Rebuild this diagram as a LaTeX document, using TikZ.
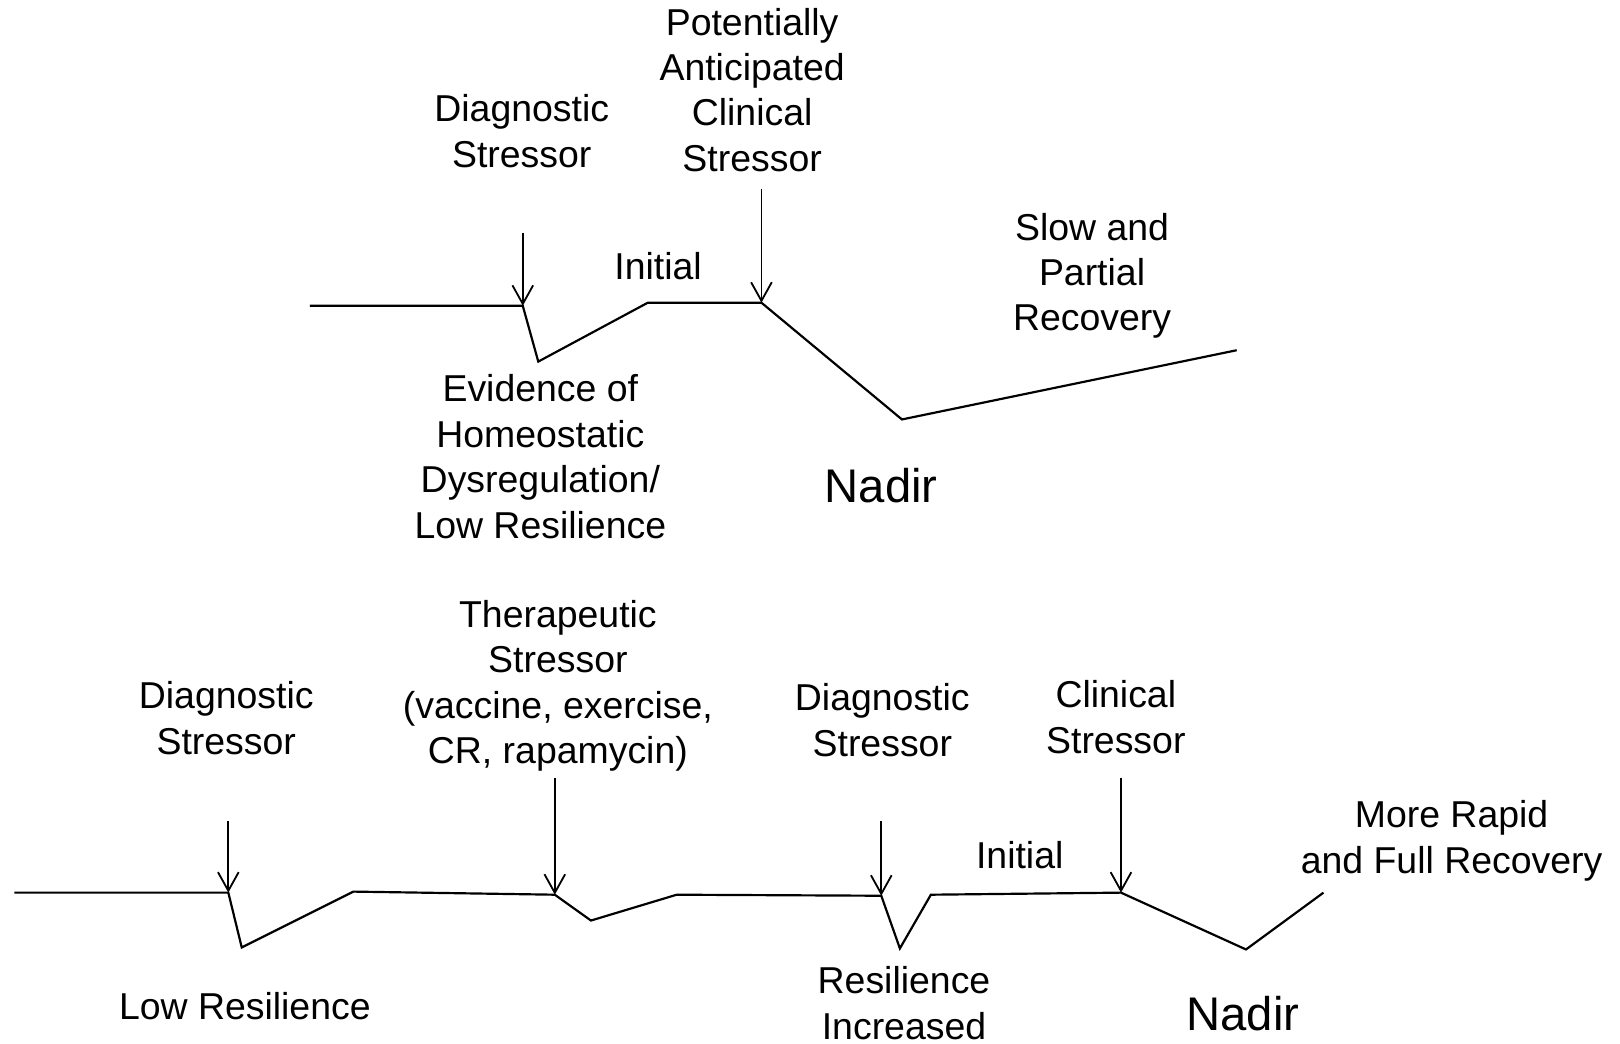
\documentclass[tikz,border=0pt]{standalone}
\usepackage{fontspec}
\setmainfont{Liberation Sans}
\usetikzlibrary{arrows.meta}
\tikzset{
  >={Straight Barb[length=1.8mm,width=2mm]},
  trace/.style={line width=0.6pt,line join=miter},
  stressarrow/.style={->,line width=0.5pt},
  lbl/.style={align=center,font=\fontsize{10.3}{12.5}\selectfont,inner sep=0pt},
  nadir/.style={font=\fontsize{13}{15}\selectfont,inner sep=0pt}
}

\begin{document}
\begin{tikzpicture}[x=0.01cm,y=-0.01cm]
    \useasboundingbox (0,0) rectangle (1568,1010);

    % upper trace: low resilience
    \foreach \x/\y/\id in {300/296/0,506/296/1,521/350/2,627/293/3,737/293/4,873/406/5,1197/339/6}
        \coordinate (t\id) at (\x,\y);
    \draw[trace] (t0) -- (t1) -- (t2) -- (t3) -- (t4) -- (t5) -- (t6);
    \coordinate (ta1) at (506,226);
    \coordinate (ta2) at (737,183);
    \draw[stressarrow] (ta1) -- (t1);
    \draw[stressarrow] (ta2) -- (t4);

    \node[lbl] (diag1) at (505,127) {Diagnostic\\Stressor};
    \node[lbl] (clin1) at (728,87) {Potentially\\Anticipated\\Clinical\\Stressor};
    \node[lbl] (init1) at (637,258) {Initial};
    \node[lbl] (slow) at (1057,267) {Slow and\\Partial\\Recovery};
    \node[lbl] (evid) at (523,442) {Evidence of\\Homeostatic\\Dysregulation/\\Low Resilience};
    \node[nadir] (nadir1) at (853,470) {Nadir};

    % lower trace: resilience increased
    \foreach \x/\y/\id in {14/864/0,221/864/1,234/917/2,342/863/3,537/866/4,572/891/5,655/866/6,853/867/7,871/918/8,901/866/9,1085/864/10,1206/919/11,1281/864/12}
        \coordinate (b\id) at (\x,\y);
    \draw[trace] (b0) -- (b1) -- (b2) -- (b3) -- (b4) -- (b5) -- (b6) -- (b7) -- (b8) -- (b9) -- (b10) -- (b11) -- (b12);
    \foreach \x/\y/\id in {221/795/1,537/753/4,853/795/7,1085/753/10}
        \coordinate (ba\id) at (\x,\y);
    \foreach \id in {1,4,7,10}
        \draw[stressarrow] (ba\id) -- (b\id);

    \node[lbl] (diag2) at (219,695) {Diagnostic\\Stressor};
    \node[lbl] (ther) at (540,664) {Therapeutic\\Stressor\\(vaccine, exercise,\\CR, rapamycin)};
    \node[lbl] (diag3) at (854,697) {Diagnostic\\Stressor};
    \node[lbl] (clin2) at (1080,694) {Clinical\\Stressor};
    \node[lbl] (init2) at (987,828) {Initial};
    \node[lbl] (rapid) at (1405,814) {More Rapid\\and Full Recovery};
    \node[lbl] (lowres) at (237,974) {Low Resilience};
    \node[lbl] (resinc) at (875,971) {Resilience\\Increased};
    \node[nadir] (nadir2) at (1203,981) {Nadir};
\end{tikzpicture}
\end{document}
